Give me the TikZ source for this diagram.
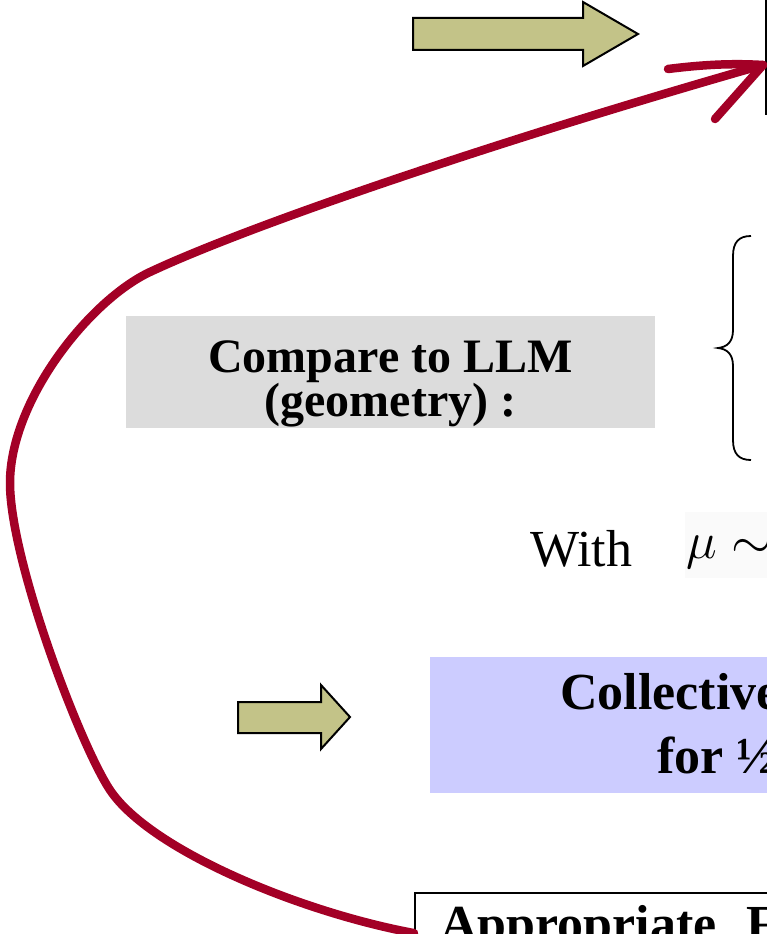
\RequirePackage{fix-cm}
\documentclass[tikz,border=0pt]{standalone}
\usepackage{fontspec}
\setmainfont{Liberation Serif}
\usetikzlibrary{positioning}
\definecolor{olivefill}{RGB}{195,195,136}
\definecolor{loopred}{RGB}{163,0,38}
\definecolor{greybox}{RGB}{220,220,220}
\definecolor{lavbox}{RGB}{204,204,255}

\begin{document}
\begin{tikzpicture}[x=1pt,y=-1pt]
	\tikzstyle{bigarrow}=[draw=black, fill=olivefill, line width=2pt, line join=miter]
	\tikzstyle{framebox}=[draw=black, line width=2.2pt, anchor=north west, inner sep=0pt]
	\tikzstyle{boldtext}=[font=\fontsize{52}{64}\selectfont\bfseries, inner sep=0pt, anchor=base west]
	\tikzstyle{loopline}=[draw=loopred, line width=8.5pt, line cap=round, line join=round]
	
	\useasboundingbox (0,0) rectangle (767,934);
	\clip (0,0) rectangle (767,934);
	
	% boxes that run off the page
	\draw node at (765,115) [framebox, anchor=south west, minimum width=300pt, minimum height=200pt] (topbox) {};
	\draw node at (414,892) [framebox, minimum width=500pt, minimum height=80pt] (appr) {};
	\node at (440,941) [boldtext] (apprtext) {Appropriate\hspace{30pt}F};
	
	\draw node at (390.5,372) [fill=greybox, minimum width=529pt, minimum height=112pt, inner sep=0pt] (llm) {};
	\node at (390.5,384) [align=center, inner sep=0pt, font=\fontsize{48}{42}\selectfont\bfseries] (llmtext) {Compare to LLM\\(geometry) :};
	
	\draw[line width=1.8pt] (751,236) .. controls (739,236) and (733,242) .. (733,256) -- (733,330) .. controls (733,342) and (727,347) .. (718,348) .. controls (727,349) and (733,354) .. (733,366) -- (733,440) .. controls (733,454) and (739,460) .. (751,460);
	
	\node at (530,566) [font=\fontsize{52}{60}\selectfont, inner sep=0pt, anchor=base west] (with) {With};
	\draw node at (685,512) [fill=black!2, anchor=north west, minimum width=120pt, minimum height=66pt] (mubox) {};
	\node at (686,558) [font=\fontsize{52}{60}\selectfont, inner sep=0pt, anchor=base west] (mu) {$\mu\sim$};
	
	\draw node at (430,657) [fill=lavbox, anchor=north west, minimum width=500pt, minimum height=136pt] (coll) {};
	\node at (560,709) [boldtext] (colltext) {Collective};
	\node at (657,773) [boldtext] (fortext) {for ½};
	
	\draw[bigarrow] (413,18) -- (583,18) -- (583,2) -- (638,34) -- (583,66) -- (583,50) -- (413,50) -- cycle;
	\draw[bigarrow] (238,702) -- (321,702) -- (321,685) -- (350,717) -- (321,749) -- (321,733) -- (238,733) -- cycle;
	
	% red loop back to the top box
	\coordinate (tip) at (763,65);
	\draw[loopline] (appr.west) .. controls (300,912) and (150,850) .. (110,790) .. controls (80,745) and (10,560) .. (10,483) .. controls (10,400) and (90,300) .. (150,272) .. controls (250,225) and (500,140) .. (tip);
	\draw[loopline] (tip) -- (715,119);
	\draw[loopline] (tip) .. controls (730,63) and (700,65) .. (668,69);
\end{tikzpicture}
\end{document}
